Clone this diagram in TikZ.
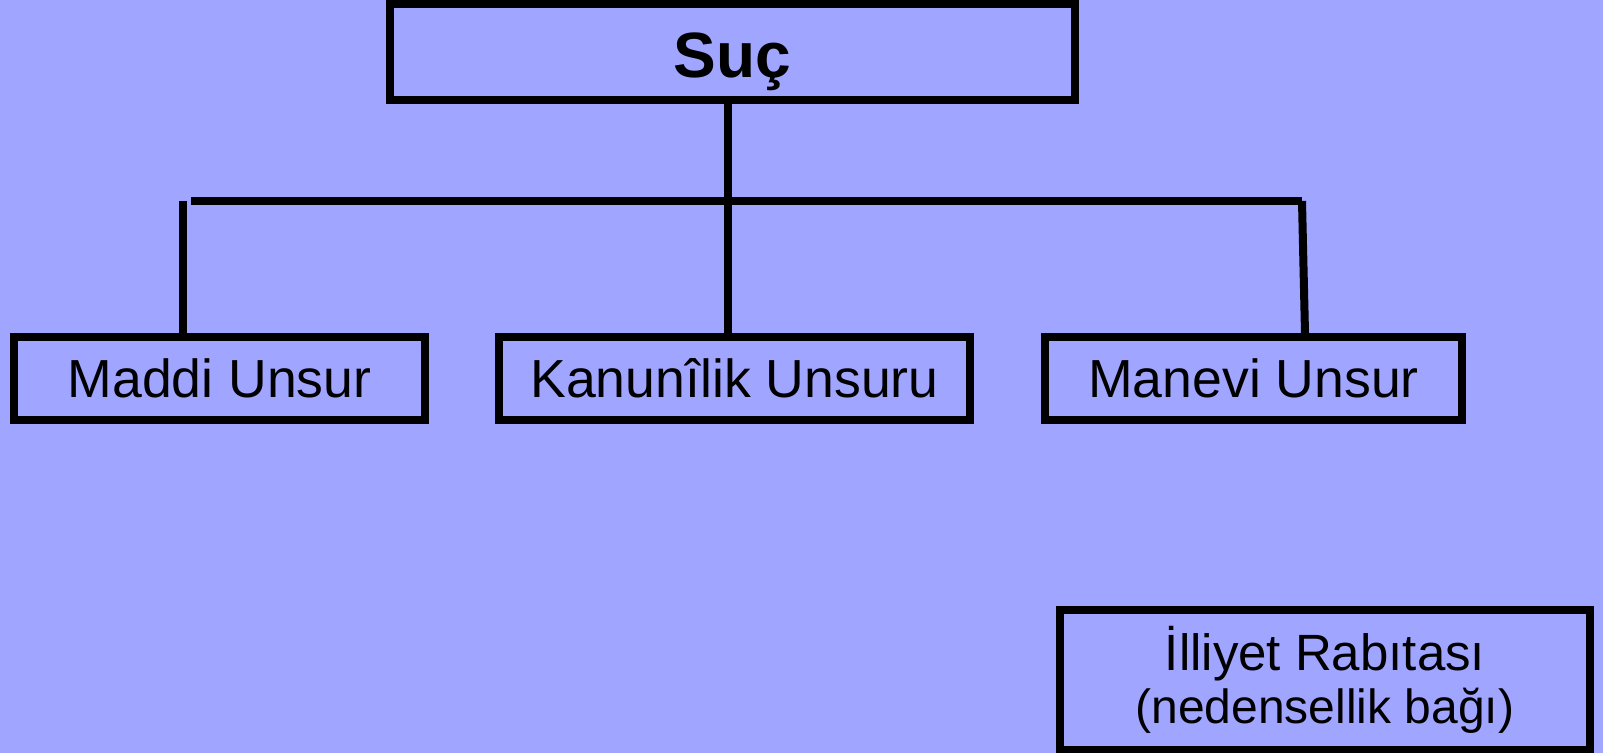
\documentclass[tikz,border=0pt]{standalone}
\usepackage{fontspec}
\setmainfont{Liberation Sans}
\definecolor{slide}{RGB}{160,166,255}
\tikzset{
  unsur/.style={draw,line width=4pt,minimum height=41.5pt,inner sep=0pt,font=\fontsize{26.8}{32}\selectfont},
  bag/.style={line width=4pt}
}
\begin{document}
\begin{tikzpicture}[x=0.5pt,y=-0.5pt]
                \fill[slide] (0,0) rectangle (1603,753);
                \useasboundingbox (0,0) rectangle (1603,753);
                \node[unsur,minimum width=342.5pt,minimum height=48pt,text height=33pt,text depth=7pt,font=\fontsize{32}{38}\selectfont\bfseries] (suc) at (732.5,52) {Suç};
                \node[unsur,minimum width=205.5pt] (maddi) at (219.5,378.5) {Maddi Unsur};
                \node[unsur,minimum width=235.5pt] (kanun) at (734.5,378.5) {Kanunîlik Unsuru};
                \node[unsur,minimum width=208.5pt] (manevi) at (1253.5,378.5) {Manevi Unsur};
                \node[unsur,minimum width=265pt,minimum height=70pt,align=center,font=\fontsize{25.5}{26.5}\selectfont] (illiyet) at (1325,680) {İlliyet Rabıtası\\{\fontsize{24}{26.5}\selectfont(nedensellik bağı)}};
                \coordinate (trunk) at (727.5,100);
                \coordinate (barL) at (191,201);
                \coordinate (barR) at (1302,201);
                \coordinate (legL) at (183,201);
                \coordinate (legR) at (1305,201);
                \draw[bag] (trunk) -- (trunk |- kanun.north);
                \draw[bag] (barL) -- (barR);
                \draw[bag] (barR) -- (legR |- manevi.north);
                \draw[bag] (legL) -- (legL |- maddi.north);
            \end{tikzpicture}
\end{document}
